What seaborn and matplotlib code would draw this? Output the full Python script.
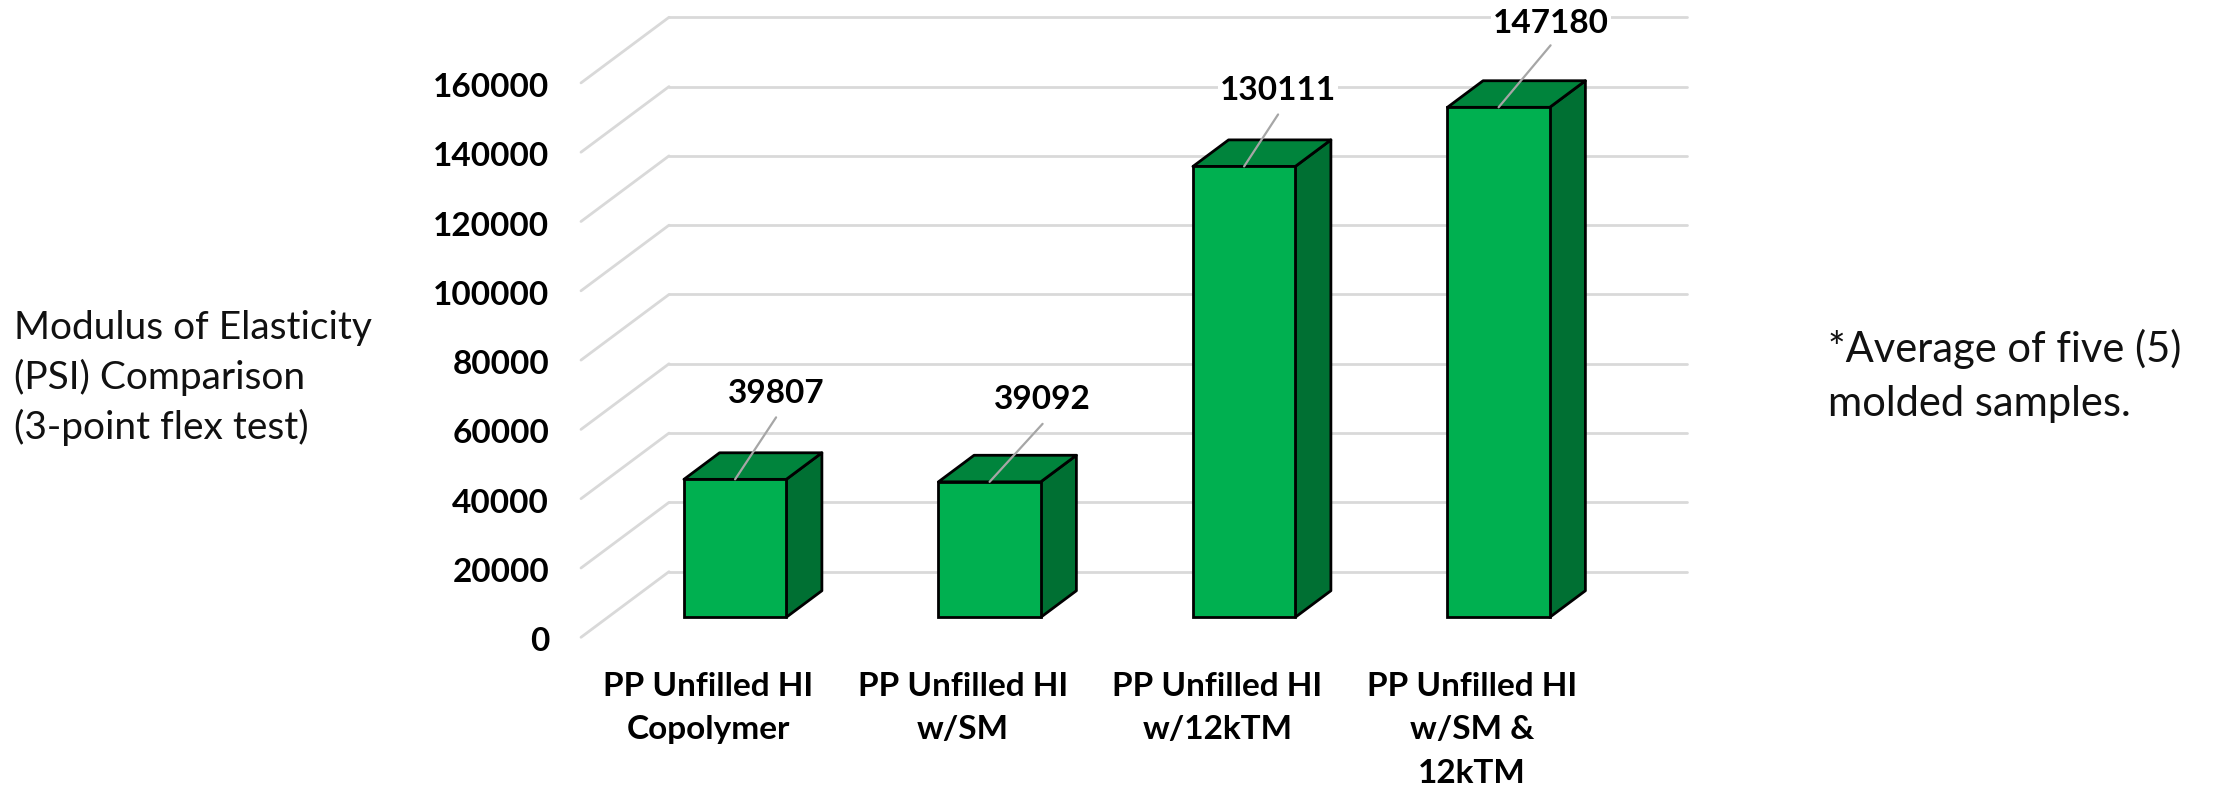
import matplotlib
matplotlib.use("Agg")
import matplotlib.pyplot as plt
from matplotlib.patches import Polygon
from matplotlib.transforms import ScaledTranslation
import pandas as pd
import seaborn as sns

categories = ["PP Unfilled HI\nCopolymer", "PP Unfilled HI\nw/SM",
              "PP Unfilled HI\nw/12kTM", "PP Unfilled HI\nw/SM &\n12kTM"]
modulus = [39807, 39092, 130111, 147180]
y_ticks = [0, 20000, 40000, 60000, 80000, 100000, 120000, 140000, 160000]
left_note = "Modulus of Elasticity\n(PSI) Comparison\n(3-point flex test)"
right_note = "*Average of five (5)\nmolded samples."

# leader-line ends and label centres relative to the top of each bar, pixels
leader_ends = [(41, 62), (53, 58), (34, 52), (52, 62)]
label_gaps = [24, 24, 24, 22]

W, H = 2225, 792
sns.set_theme(style="white")
plt.rcParams["font.family"] = ["Lato", "DejaVu Sans"]
fig = plt.figure(figsize=(W / 100, H / 100), dpi=100, facecolor="white")

PLANE_W, PLANE_H = 1018, 554.4     # pixels spanned by 4 categories / 160000
FRONT_X, FRONT_Y = 581, 637.3
DEPTH_X, DEPTH_Y = 88, 65.6
BAR_D0, BAR_D1 = 0.305, 0.71
X_LIM, Y_LIM = (-0.5, 3.5), (0, 160000)


def plane(depth):
    x = FRONT_X + depth * DEPTH_X
    y = FRONT_Y - depth * DEPTH_Y
    a = fig.add_axes([x / W, 1 - y / H, PLANE_W / W, PLANE_H / H])
    a.patch.set_alpha(0)
    sns.despine(ax=a, left=True, bottom=True, right=True, top=True)
    return a


# back wall with its gridlines
ax_wall = plane(1)
ax_wall.set_xlim(X_LIM); ax_wall.set_ylim(Y_LIM)
ax_wall.set_yticks(y_ticks); ax_wall.set_xticks([])
ax_wall.tick_params(left=False, labelleft=False)
ax_wall.grid(axis="y", color="#D9D9D9", linewidth=2)
for g in ax_wall.get_ygridlines():
    g.set_clip_on(False)

# front plane: tick labels and the floor/side diagonals
ax_front = plane(0)
ax_front.set_xlim(X_LIM); ax_front.set_ylim(Y_LIM)
ax_front.set_xticks(range(len(categories)))
ax_front.set_xticklabels(categories, fontsize=24, fontweight="bold", color="black", linespacing=1.6)
ax_front.set_yticks(y_ticks)
ax_front.set_yticklabels([str(v) for v in y_ticks], fontsize=24, fontweight="bold", color="black")
ax_front.tick_params(axis="x", length=0, pad=25)
ax_front.tick_params(axis="y", length=0, pad=23)
for lbl in ax_front.get_yticklabels():
    lbl.set_transform(lbl.get_transform() + ScaledTranslation(0, -1.5 / 72, fig.dpi_scale_trans))
depth_dx = DEPTH_X / PLANE_W * (X_LIM[1] - X_LIM[0])
depth_dy = DEPTH_Y / PLANE_H * (Y_LIM[1] - Y_LIM[0])
for v in y_ticks:
    ax_front.plot([X_LIM[0], X_LIM[0] + depth_dx], [v, v + depth_dy],
                  color="#D9D9D9", linewidth=2, clip_on=False)

# bars
ax_bars = plane(BAR_D0)
df = pd.DataFrame({"material": categories, "modulus": modulus})
sns.barplot(data=df, x="material", y="modulus", ax=ax_bars, color="#00B050", saturation=1,
            width=0.402, edgecolor="black", linewidth=2, clip_on=False, zorder=3)
ax_bars.set_xlim(X_LIM); ax_bars.set_ylim(Y_LIM)
ax_bars.set_xlabel(""); ax_bars.set_ylabel("")
ax_bars.set_xticks([]); ax_bars.set_yticks([])

d = BAR_D1 - BAR_D0
for rect, value, (lx, ly), gap in zip(ax_bars.patches, modulus, leader_ends, label_gaps):
    x0, x1 = rect.get_x(), rect.get_x() + rect.get_width()
    h = rect.get_height()
    ddx, ddy = d * depth_dx, d * depth_dy
    ax_bars.add_patch(Polygon([(x1, 0), (x1 + ddx, ddy), (x1 + ddx, h + ddy), (x1, h)],
                              closed=True, facecolor="#007033", edgecolor="black",
                              linewidth=2, clip_on=False, joinstyle="round", zorder=2))
    ax_bars.add_patch(Polygon([(x0, h), (x0 + ddx, h + ddy), (x1 + ddx, h + ddy), (x1, h)],
                              closed=True, facecolor="#00843C", edgecolor="black",
                              linewidth=2, clip_on=False, joinstyle="round", zorder=2))
    cx = (x0 + x1) / 2
    ax_bars.annotate("", xy=(cx, h), xytext=(lx, ly), textcoords="offset pixels",
                     arrowprops=dict(arrowstyle="-", color="#A6A6A6", linewidth=1.6,
                                     shrinkA=0, shrinkB=0), annotation_clip=False, zorder=5)
    ax_bars.annotate(str(value), xy=(cx, h), xytext=(lx, ly + gap), textcoords="offset pixels",
                     ha="center", va="center", fontsize=24, fontweight="bold", color="black",
                     bbox=dict(facecolor="white", edgecolor="none", pad=1.5),
                     annotation_clip=False, zorder=6)

fig.text(14 / W, 1 - 378 / H, left_note, fontsize=28, color="#111111", ha="left", va="center",
         linespacing=1.44)
fig.text(1828 / W, 1 - 376 / H, right_note, fontsize=30, color="#111111", ha="left", va="center",
         linespacing=1.52)

fig.savefig("out.png", dpi=100, facecolor="white")
